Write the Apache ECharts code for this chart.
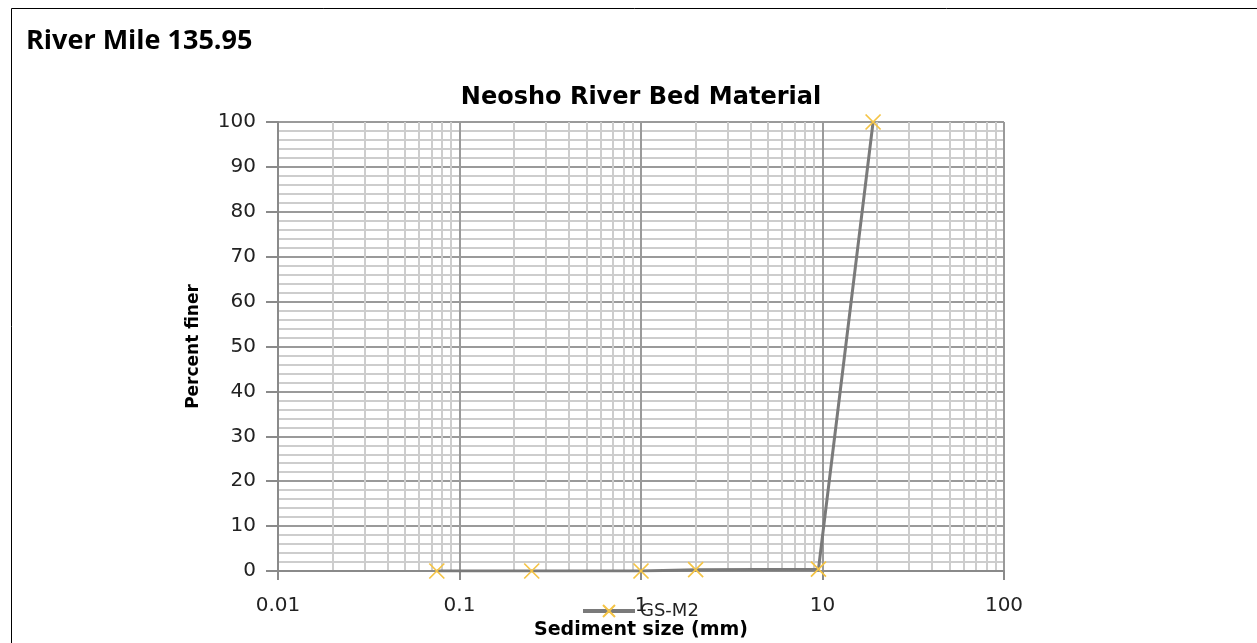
<!DOCTYPE html>
<html>
<head>
<meta charset="utf-8">
<script src="https://cdn.jsdelivr.net/npm/echarts@6/dist/echarts.min.js"></script>
<style>
html,body{margin:0;padding:0;background:#fff;}
#c{width:1257px;height:643px;}
</style>
</head>
<body>
<div id="c"></div>
<script>
const pageTitle = 'River Mile 135.95';
const chartTitle = 'Neosho River Bed Material';
const seriesName = 'GS-M2';
const sizesMm = [0.075, 0.25, 1.0, 2.0, 9.5, 19];
const percentFiner = [0, 0, 0, 0.3, 0.4, 100];
const xTickLabels = ['0.01', '0.1', '1', '10', '100'];
const yTicks = [0, 10, 20, 30, 40, 50, 60, 70, 80, 90, 100];

const FONT = '"Open Sans", "DejaVu Sans", sans-serif';
const WIDE = '"DejaVu Sans", sans-serif';
const chart = echarts.init(document.getElementById('c'), null, {renderer: 'canvas'});
const marker = 'path://M0,0L10,10M10,0L0,10';

chart.setOption({
  animation: false,
  backgroundColor: '#fff',
  graphic: [
    {type: 'rect', shape: {x: 11.5, y: 8.5, width: 1400, height: 800}, style: {fill: 'none', stroke: '#000', lineWidth: 1}, silent: true, z: -1},
    {type: 'text', left: 26, top: 28, style: {text: pageTitle, font: 'bold 27px ' + FONT, fill: '#000'}}
  ],
  title: {
    text: chartTitle, left: 636, top: 81, textAlign: 'center',
    textStyle: {fontFamily: WIDE, fontWeight: 'bold', fontSize: 24, color: '#000'}
  },
  legend: {
    data: [seriesName], left: 576, top: 597, itemWidth: 52, itemHeight: 15, itemGap: 4,
    lineStyle: {width: 4, color: '#7a7a7a'},
    textStyle: {fontFamily: WIDE, fontSize: 18, color: '#222'}
  },
  grid: {left: 278, right: 253, top: 122, bottom: 72, containLabel: false, outerBoundsMode: 'none'},
  xAxis: {
    type: 'log', logBase: 10, min: 0.01, max: 100,
    name: 'Sediment size (mm)', nameLocation: 'middle', nameGap: 48,
    nameTextStyle: {fontFamily: WIDE, fontWeight: 'bold', fontSize: 19, color: '#000'},
    axisLine: {show: true, lineStyle: {color: '#8a8a8a', width: 2}},
    axisTick: {show: true, length: 9, lineStyle: {color: '#8a8a8a', width: 2}},
    axisLabel: {fontFamily: WIDE, fontSize: 20, color: '#222', margin: 25,
      formatter: function (v) { const i = Math.round(Math.log10(v)) + 2; return xTickLabels[i] || ''; }},
    splitLine: {show: true, lineStyle: {color: '#9a9a9a', width: 2}},
    minorTick: {show: false, splitNumber: 9},
    minorSplitLine: {show: true, lineStyle: {color: '#cdcdcd', width: 2}}
  },
  yAxis: {
    type: 'value', min: 0, max: 100, interval: 10,
    name: 'Percent finer', nameLocation: 'middle', nameGap: 76, nameRotate: 90,
    nameTextStyle: {fontFamily: WIDE, fontWeight: 'bold', fontSize: 17, color: '#000'},
    axisLine: {show: true, lineStyle: {color: '#8a8a8a', width: 2}},
    axisTick: {show: true, length: 12, lineStyle: {color: '#8a8a8a', width: 2}},
    axisLabel: {fontFamily: WIDE, fontSize: 20, color: '#222', margin: 22,
      formatter: function (v) { return yTicks.indexOf(v) >= 0 ? String(v) : ''; }},
    splitLine: {show: true, lineStyle: {color: '#9a9a9a', width: 2}},
    minorTick: {show: false, splitNumber: 5},
    minorSplitLine: {show: true, lineStyle: {color: '#cdcdcd', width: 2}}
  },
  series: [{
    name: seriesName, type: 'line',
    data: sizesMm.map((s, i) => [s, percentFiner[i]]),
    lineStyle: {color: '#7a7a7a', width: 3},
    symbol: marker, symbolSize: 15, showAllSymbol: true,
    itemStyle: {color: '#f5c445', borderColor: '#f5c445', borderWidth: 1.7},
    z: 5
  }]
});
</script>
</body>
</html>
